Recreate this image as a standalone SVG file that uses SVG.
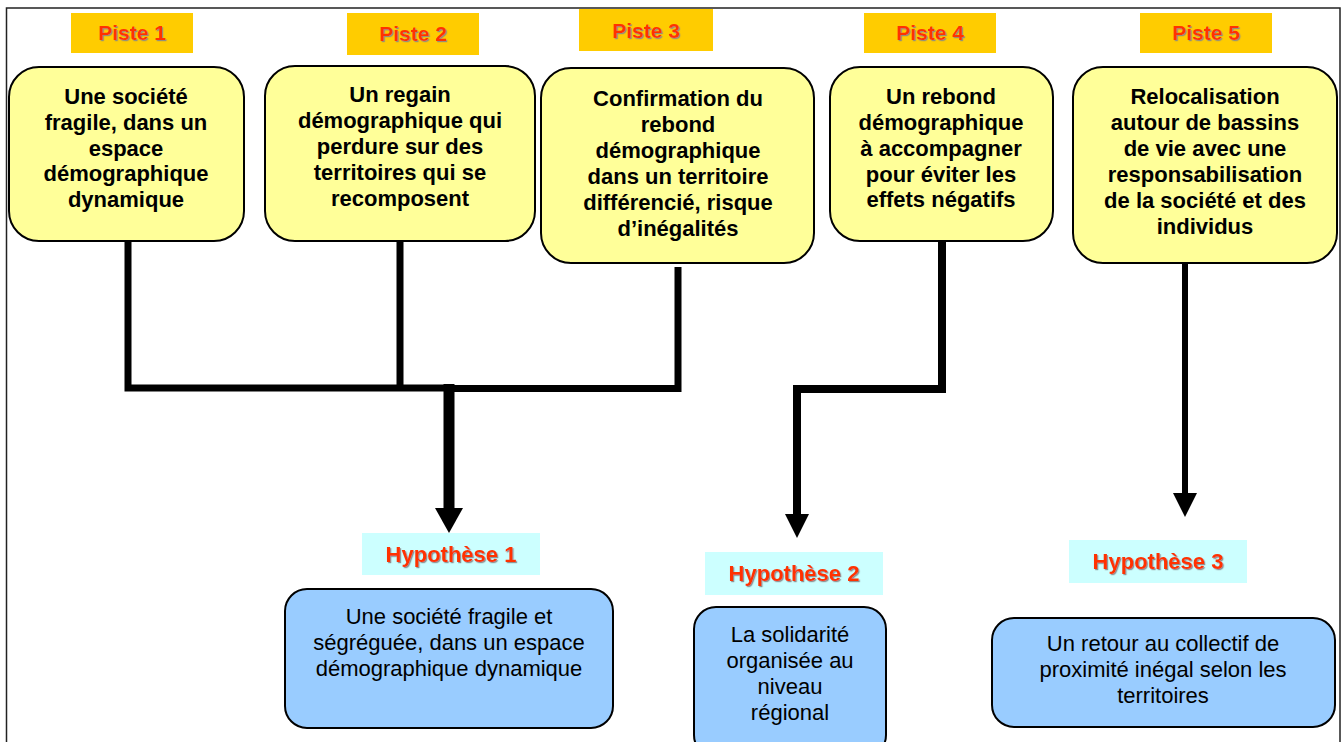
<svg xmlns="http://www.w3.org/2000/svg" width="1343" height="742" viewBox="0 0 1343 742">
<defs>
<filter id="sh" x="-10%" y="-10%" width="130%" height="140%">
<feDropShadow dx="1.2" dy="1.2" stdDeviation="0.4" flood-color="#888888" flood-opacity="0.9"/>
</filter>
<style>
.frame{fill:none;stroke:#222;stroke-width:1.5}
.tag{fill:#FFCC00}
.htag{fill:#CCFFFF}
.tagt{font-family:"Liberation Sans",Arial,sans-serif;font-weight:bold;font-size:21px;fill:#FF3300;text-anchor:middle}
.hyt{font-size:22px}
.piste{fill:#FFFF99;stroke:#000;stroke-width:2}
.hyp{fill:#99CCFF;stroke:#000;stroke-width:2}
.pt{font-family:"Liberation Sans",Arial,sans-serif;font-weight:bold;font-size:22px;fill:#000;text-anchor:middle}
.ht{font-family:"Liberation Sans",Arial,sans-serif;font-size:22px;fill:#000;text-anchor:middle}
.ln{fill:none;stroke:#000;stroke-linejoin:miter;stroke-linecap:butt}
.head{fill:#000}
</style>
</defs>
<rect width="1343" height="742" fill="#fff"/>
<rect class="frame" x="6.5" y="8" width="1333.5" height="760"/>

<g id="connectors">
<path class="ln" stroke-width="7" d="M128,241 V388 H452"/>
<path class="ln" stroke-width="7" d="M400,241 V388"/>
<path class="ln" stroke-width="7" d="M678,267 V388.5 H445"/>
<path class="ln" stroke-width="11" d="M449,384 V512"/>
<polygon class="head" points="435,508 463,508 449,533"/>
<path class="ln" stroke-width="8" d="M942,241 V389 H797 V516"/>
<polygon class="head" points="785,514 809,514 797,538"/>
<path class="ln" stroke-width="6" d="M1185,263 V495"/>
<polygon class="head" points="1173,493 1197,493 1185,517"/>
</g>

<g id="piste1">
<rect class="tag" x="71" y="13" width="122" height="40"/>
<text class="tagt" x="132" y="40" filter="url(#sh)">Piste 1</text>
<rect class="piste" x="9" y="67" width="235" height="174" rx="30"/>
<text class="pt" x="126"><tspan x="126" y="104">Une société</tspan><tspan x="126" y="130">fragile, dans un</tspan><tspan x="126" y="156">espace</tspan><tspan x="126" y="181">démographique</tspan><tspan x="126" y="207">dynamique</tspan></text>
</g>

<g id="piste2">
<rect class="tag" x="347" y="13" width="132" height="42"/>
<text class="tagt" x="413" y="41" filter="url(#sh)">Piste 2</text>
<rect class="piste" x="265" y="66" width="270" height="175" rx="30"/>
<text class="pt" x="400"><tspan x="400" y="102">Un regain</tspan><tspan x="400" y="128">démographique qui</tspan><tspan x="400" y="154">perdure sur des</tspan><tspan x="400" y="180">territoires qui se</tspan><tspan x="400" y="206">recomposent</tspan></text>
</g>

<g id="piste3">
<rect class="tag" x="579" y="9" width="134" height="42"/>
<text class="tagt" x="646" y="38" filter="url(#sh)">Piste 3</text>
<rect class="piste" x="541" y="68" width="273" height="195" rx="30"/>
<text class="pt" x="678"><tspan x="678" y="106">Confirmation du</tspan><tspan x="678" y="132">rebond</tspan><tspan x="678" y="158">démographique</tspan><tspan x="678" y="184">dans un territoire</tspan><tspan x="678" y="210">différencié, risque</tspan><tspan x="678" y="236">d’inégalités</tspan></text>
</g>

<g id="piste4">
<rect class="tag" x="864" y="13" width="132" height="40"/>
<text class="tagt" x="930" y="40" filter="url(#sh)">Piste 4</text>
<rect class="piste" x="830" y="67" width="223" height="174" rx="30"/>
<text class="pt" x="941"><tspan x="941" y="104">Un rebond</tspan><tspan x="941" y="130">démographique</tspan><tspan x="941" y="156">à accompagner</tspan><tspan x="941" y="182">pour éviter les</tspan><tspan x="941" y="207">effets négatifs</tspan></text>
</g>

<g id="piste5">
<rect class="tag" x="1140" y="13" width="132" height="40"/>
<text class="tagt" x="1206" y="40" filter="url(#sh)">Piste 5</text>
<rect class="piste" x="1073" y="67" width="264" height="196" rx="30"/>
<text class="pt" x="1205"><tspan x="1205" y="104">Relocalisation</tspan><tspan x="1205" y="130">autour de bassins</tspan><tspan x="1205" y="156">de vie avec une</tspan><tspan x="1205" y="182">responsabilisation</tspan><tspan x="1205" y="208">de la société et des</tspan><tspan x="1205" y="234">individus</tspan></text>
</g>

<g id="hyp1">
<rect class="htag" x="362" y="533" width="178" height="42"/>
<text class="tagt hyt" x="451" y="562" filter="url(#sh)">Hypothèse 1</text>
<rect class="hyp" x="285" y="589" width="328" height="139" rx="22"/>
<text class="ht" x="449"><tspan x="449" y="624">Une société fragile et</tspan><tspan x="449" y="650">ségréguée, dans un espace</tspan><tspan x="449" y="676">démographique dynamique</tspan></text>
</g>

<g id="hyp2">
<rect class="htag" x="705" y="552" width="178" height="43"/>
<text class="tagt hyt" x="794" y="581" filter="url(#sh)">Hypothèse 2</text>
<rect class="hyp" x="694" y="607" width="192" height="150" rx="22"/>
<text class="ht" x="790"><tspan x="790" y="642">La solidarité</tspan><tspan x="790" y="668">organisée au</tspan><tspan x="790" y="694">niveau</tspan><tspan x="790" y="720">régional</tspan></text>
</g>

<g id="hyp3">
<rect class="htag" x="1069" y="540" width="178" height="43"/>
<text class="tagt hyt" x="1158" y="569" filter="url(#sh)">Hypothèse 3</text>
<rect class="hyp" x="992" y="618" width="343" height="109" rx="22"/>
<text class="ht" x="1163"><tspan x="1163" y="651">Un retour au collectif de</tspan><tspan x="1163" y="677">proximité inégal selon les</tspan><tspan x="1163" y="703">territoires</tspan></text>
</g>
</svg>
